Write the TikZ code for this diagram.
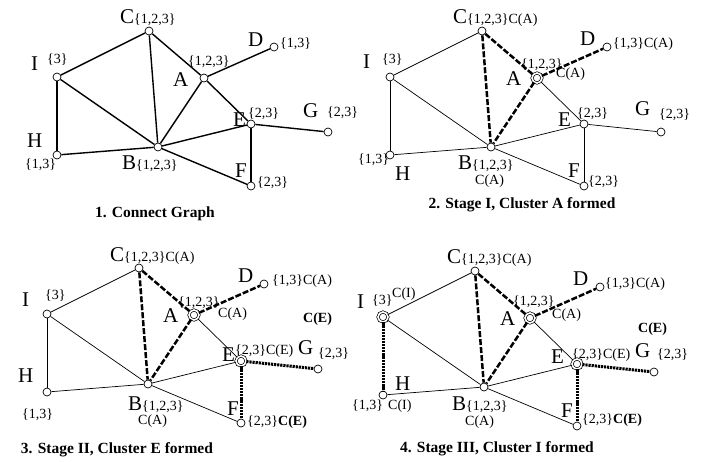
\documentclass[tikz,border=0pt]{standalone}
\usepackage{fontspec}
\setmainfont{Liberation Serif}
\usepackage{tikz}

\newcommand{\grp}[1]{{\fontsize{14}{15}\selectfont\{#1\}}}
\newcommand{\clu}[1]{{\fontsize{14}{15}\selectfont C(#1)}}

\begin{document}
\begin{tikzpicture}[x=1pt, y=-1pt,
    vtx/.style={circle, draw, fill=white, inner sep=0pt, minimum size=8pt, line width=0.7pt},
    head/.style={minimum size=10pt, double, double distance=1.6pt},
    hd2A/.style=head, hd3A/.style=head, hd3E/.style=head,
    hd4A/.style=head, hd4E/.style=head, hd4I/.style=head,
    ltr/.style={inner sep=0pt, anchor=base west, font=\fontsize{21}{22}\selectfont},
    tag/.style={inner sep=0pt, anchor=base west, font=\fontsize{14}{15}\selectfont},
    tagb/.style={tag, font=\fontsize{14}{15}\selectfont\bfseries},
    capt/.style={inner sep=0pt, anchor=base, font=\fontsize{15.5}{17}\selectfont\bfseries},
    edge1/.style={line width=1.4pt},
    edge/.style={line width=0.7pt},
    clA/.style={line width=2.5pt, dash pattern=on 6pt off 2pt},
    clE/.style={line width=3pt, dash pattern=on 2.2pt off 0.9pt}]
    \path[use as bounding box, fill=white] (0,0) rectangle (710,461);

    % 1. Connect Graph
    \node[ltr] (lC1) at (120,23) {C\grp{1,2,3}};
    \node[ltr] (lD1) at (248,46) {D};
    \node[tag] (sD1) at (280,47) {\{1,3\}};
    \node[ltr] (lI1) at (31,70) {I};
    \node[tag] (sI1) at (47,63) {\{3\}};
    \node[tag] (sA1) at (188,65) {\{1,2,3\}};
    \node[ltr] (lA1) at (173,86) {A};
    \node[ltr] (lE1) at (233,126) {E};
    \node[tag] (sE1) at (248,117) {\{2,3\}};
    \node[ltr] (lG1) at (303,117) {G};
    \node[tag] (sG1) at (327,116) {\{2,3\}};
    \node[ltr] (lH1) at (27,147) {H};
    \node[tag] (sH1) at (25,168) {\{1,3\}};
    \node[ltr] (lB1) at (122,169) {B\grp{1,2,3}};
    \node[ltr] (lF1) at (235,177) {F};
    \node[tag] (sF1) at (257,186) {\{2,3\}};
    \node[capt] (cap1) at (155,217) {1. Connect Graph};

    % 2. Stage I
    \node[ltr] (lC2) at (453,23) {C\grp{1,2,3}\clu{A}};
    \node[ltr] (lD2) at (580,45) {D};
    \node[tag] (sD2) at (613,47) {\{1,3\}C(A)};
    \node[ltr] (lI2) at (363,68) {I};
    \node[tag] (sI2) at (382,63) {\{3\}};
    \node[tag] (sA2) at (521,68) {\{1,2,3\}};
    \node[ltr] (lA2) at (506,85) {A};
    \node[tag] (kA2) at (556,77) {C(A)};
    \node[ltr] (lE2) at (558,126) {E};
    \node[tag] (sE2) at (577,117) {\{2,3\}};
    \node[ltr] (lG2) at (635,115) {G};
    \node[tag] (sG2) at (659,118) {\{2,3\}};
    \node[tag] (sH2) at (358,163) {\{1,3\}};
    \node[ltr] (lH2) at (395,180) {H};
    \node[ltr] (lB2) at (458,169) {B\grp{1,2,3}};
    \node[tag] (kB2) at (475,184) {C(A)};
    \node[ltr] (lF2) at (568,177) {F};
    \node[tag] (sF2) at (588,185) {\{2,3\}};
    \node[capt] (cap2) at (522,208) {2. Stage I, Cluster A formed};

    % 3. Stage II
    \node[ltr] (lC3) at (110,261) {C\grp{1,2,3}\clu{A}};
    \node[ltr] (lD3) at (238,282) {D};
    \node[tag] (sD3) at (272,284) {\{1,3\}C(A)};
    \node[ltr] (lI3) at (22,306) {I};
    \node[tag] (sI3) at (45,299) {\{3\}};
    \node[tag] (sA3) at (178,306) {\{1,2,3\}};
    \node[ltr] (lA3) at (163,322) {A};
    \node[tag] (kA3) at (218,317) {C(A)};
    \node[tagb] (kE3) at (303,322) {C(E)};
    \node[ltr] (lE3) at (222,361) {E};
    \node[tag] (sE3) at (235,354) {\{2,3\}C(E)};
    \node[ltr] (lG3) at (298,354) {G};
    \node[tag] (sG3) at (318,357) {\{2,3\}};
    \node[ltr] (lH3) at (18,382) {H};
    \node[tag] (sH3) at (22,418) {\{1,3\}};
    \node[ltr] (lB3) at (128,410) {B\grp{1,2,3}};
    \node[tag] (kB3) at (138,424) {C(A)};
    \node[ltr] (lF3) at (227,415) {F};
    \node[tag] (sF3) at (247,425) {\{2,3\}\textbf{C(E)}};
    \node[capt] (cap3) at (117,453) {3. Stage II, Cluster E formed};

    % 4. Stage III
    \node[ltr] (lC4) at (447,263) {C\grp{1,2,3}\clu{A}};
    \node[ltr] (lD4) at (573,285) {D};
    \node[tag] (sD4) at (605,287) {\{1,3\}C(A)};
    \node[ltr] (lI4) at (357,308) {I};
    \node[tag] (sI4) at (372,304) {\{3\}};
    \node[tag] (kI4) at (392,297) {C(I)};
    \node[tag] (sA4) at (513,305) {\{1,2,3\}};
    \node[ltr] (lA4) at (500,325) {A};
    \node[tag] (kA4) at (552,318) {C(A)};
    \node[tagb] (kE4) at (638,332) {C(E)};
    \node[ltr] (lE4) at (551,363) {E};
    \node[tag] (sE4) at (572,358) {\{2,3\}C(E)};
    \node[ltr] (lG4) at (635,357) {G};
    \node[tag] (sG4) at (657,358) {\{2,3\}};
    \node[ltr] (lH4) at (395,390) {H};
    \node[tag] (sH4) at (352,409) {\{1,3\}};
    \node[tag] (kH4) at (388,409) {C(I)};
    \node[ltr] (lB4) at (452,410) {B\grp{1,2,3}};
    \node[tag] (kB4) at (465,425) {C(A)};
    \node[ltr] (lF4) at (561,417) {F};
    \node[tag] (sF4) at (582,423) {\{2,3\}\textbf{C(E)}};
    \node[capt] (cap4) at (497,452) {4. Stage III, Cluster I formed};

    % vertices
    \foreach \p/\dx/\dy in {1/0/0, 2/333/0, 3/-10/237, 4/326/240} {
      \begin{scope}[shift={(\dx,\dy)}]
        \foreach \n/\x/\y in {A/204/78, B/158/147, C/149/31, D/274/47, E/251/124,
                              F/251/186, G/328/132, H/57/155, I/57/77}
          \node[vtx, hd\p\n/.try] (\n\p) at (\x,\y) {};
      \end{scope}
    }

    % edges
    \foreach \u/\v in {C/I, C/B, C/A, A/D, A/E, A/B, I/B, I/H, H/B, B/E, B/F, E/G, E/F}
      \draw[edge1] (\u1) -- (\v1);
    \foreach \p in {2,3,4} {
      \foreach \u/\v in {C/I, A/E, I/B, H/B, B/E, B/F}
        \draw[edge] (\u\p) -- (\v\p);
      \foreach \u/\v in {C/B, C/A, A/D, A/B}
        \draw[clA] (\u\p) -- (\v\p);
    }
    \foreach \u/\v in {I/H, E/G, E/F}
      \draw[edge] (\u2) -- (\v2);
    \draw[edge] (I3) -- (H3);
    \foreach \u/\v in {E/G, E/F}
      \draw[clE] (\u3) -- (\v3);
    \foreach \u/\v in {E/G, E/F, I/H}
      \draw[clE] (\u4) -- (\v4);
\end{tikzpicture}
\end{document}
